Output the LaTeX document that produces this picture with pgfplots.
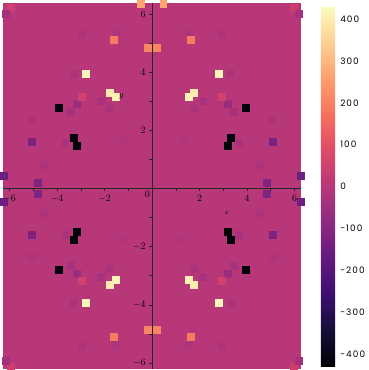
\documentclass[border=0pt]{standalone}
\usepackage{fontspec}
\usepackage{pgfplots}
\pgfplotsset{compat=1.18}
\newfontfamily\cbfont{Poppins}[LetterSpace=12]
\definecolor{bgmag}{RGB}{183,55,121}
\pgfplotsset{colormap={magma}{rgb255=(0,0,4) rgb255=(20,14,54) rgb255=(59,15,112) rgb255=(100,26,128) rgb255=(140,41,129) rgb255=(183,55,121) rgb255=(222,73,104) rgb255=(247,112,92) rgb255=(254,159,109) rgb255=(254,207,146) rgb255=(252,253,191)}}
\pgfplotstableread{
x y v
1.53 5.36 -20
2.95 5.36 -20
3.31 3.93 -25
2.15 3.02 -28
1.77 2.76 -28
3.43 2.65 -32
5.08 2.37 -20
3.66 1.58 -28
1.25 1.72 -14
4.55 0.83 -20
3.18 2.93 -60
2.95 3.16 55
5.08 1.60 -120
4.82 0.19 -115
6.25 0.44 -150
5.96 6.20 45
6.16 6.00 -35
-1.53 5.36 -20
-2.95 5.36 -20
-3.31 3.93 -25
-2.15 3.02 -28
-1.77 2.76 -28
-3.43 2.65 -32
-5.08 2.37 -20
-3.66 1.58 -28
-1.25 1.72 -14
-4.55 0.83 -20
-3.18 2.93 -60
-2.95 3.16 55
-5.08 1.60 -120
-4.82 0.19 -115
-6.25 0.44 -150
-5.96 6.20 45
-6.16 6.00 -35
1.53 -5.36 -20
2.95 -5.36 -20
3.31 -3.93 -25
2.15 -3.02 -28
1.77 -2.76 -28
3.43 -2.65 -32
5.08 -2.37 -20
3.66 -1.58 -28
1.25 -1.72 -14
4.55 -0.83 -20
3.18 -2.93 -60
2.95 -3.16 55
5.08 -1.60 -120
4.82 -0.19 -115
6.25 -0.44 -150
5.96 -6.12 45
6.16 -5.92 -35
-1.53 -5.36 -20
-2.95 -5.36 -20
-3.31 -3.93 -25
-2.15 -3.02 -28
-1.77 -2.76 -28
-3.43 -2.65 -32
-5.08 -2.37 -20
-3.66 -1.58 -28
-1.25 -1.72 -14
-4.55 -0.83 -20
-3.18 -2.93 -60
-2.95 -3.16 55
-5.08 -1.60 -120
-4.82 -0.19 -115
-6.25 -0.44 -150
-5.96 -6.12 45
-6.16 -5.92 -35
0.47 6.36 270
-0.47 6.36 270
0.47 -6.22 270
-0.47 -6.22 270
0.19 4.85 210
-0.19 4.85 210
0.19 -4.85 210
-0.19 -4.85 210
1.62 5.10 190
-1.62 5.10 190
1.62 -5.10 190
-1.62 -5.10 190
2.79 3.93 420
-2.79 3.93 420
2.79 -3.93 420
-2.79 -3.93 420
1.53 3.15 410
-1.53 3.15 410
1.53 -3.15 410
-1.53 -3.15 410
1.77 3.30 400
-1.77 3.30 400
1.77 -3.30 400
-1.77 -3.30 400
3.94 2.78 -420
-3.94 2.78 -420
3.94 -2.78 -420
-3.94 -2.78 -420
3.30 1.75 -420
-3.30 1.75 -420
3.30 -1.75 -420
-3.30 -1.75 -420
3.17 1.48 -420
-3.17 1.48 -420
3.17 -1.48 -420
-3.17 -1.48 -420
}\spikes
\begin{document}
\begin{tikzpicture}
\begin{axis}[
  scale only axis, width=301.6pt, height=370pt,
  xmin=-6.2832, xmax=6.2832, ymin=-6.19, ymax=6.39,
  axis lines=middle, axis line style={-, black!85, line width=0.7pt},
  xtick={-6,-4,-2,2,4,6}, minor xtick={-5,-3,-1,1,3,5},
  ytick={-6,-4,-2,2,4,6}, minor ytick={-5,-3,-1,1,3,5},
  tick align=outside, major tick length=3pt, minor tick length=3pt,
  tick style={black!85, line width=0.6pt},
  axis on top, clip mode=individual,
  axis background/.style={fill=bgmag},
  colormap name=magma,
  point meta min=-430, point meta max=430,
  colorbar,
  colorbar style={
    at={(parent axis.north east)}, anchor=north west, xshift=11.4pt, yshift=-4pt,
    width=15pt, height=364pt,
    axis line style={draw=none}, major tick length=0pt,
    ytick={-400,-300,...,400},
    yticklabels={-400,-300,-200,-100,0,100,200,300,400},
    yticklabel style={font=\cbfont\small, xshift=1pt},
  },
]
\addplot[scatter, only marks, mark=square*, mark size=3.5pt,
  scatter/use mapped color={draw=mapped color, fill=mapped color},
  point meta=explicit] table[x=x, y=y, meta=v] {\spikes};
\node[font=\scriptsize, inner sep=0pt] at (axis cs:3.15,-0.85) {$x$};
\node[font=\small, inner sep=0pt] at (axis cs:-1.30,3.16) {$y$};
\node[anchor=north east, inner sep=2pt] at (axis cs:0,0) {$0$};
\end{axis}
\end{tikzpicture}
\end{document}
